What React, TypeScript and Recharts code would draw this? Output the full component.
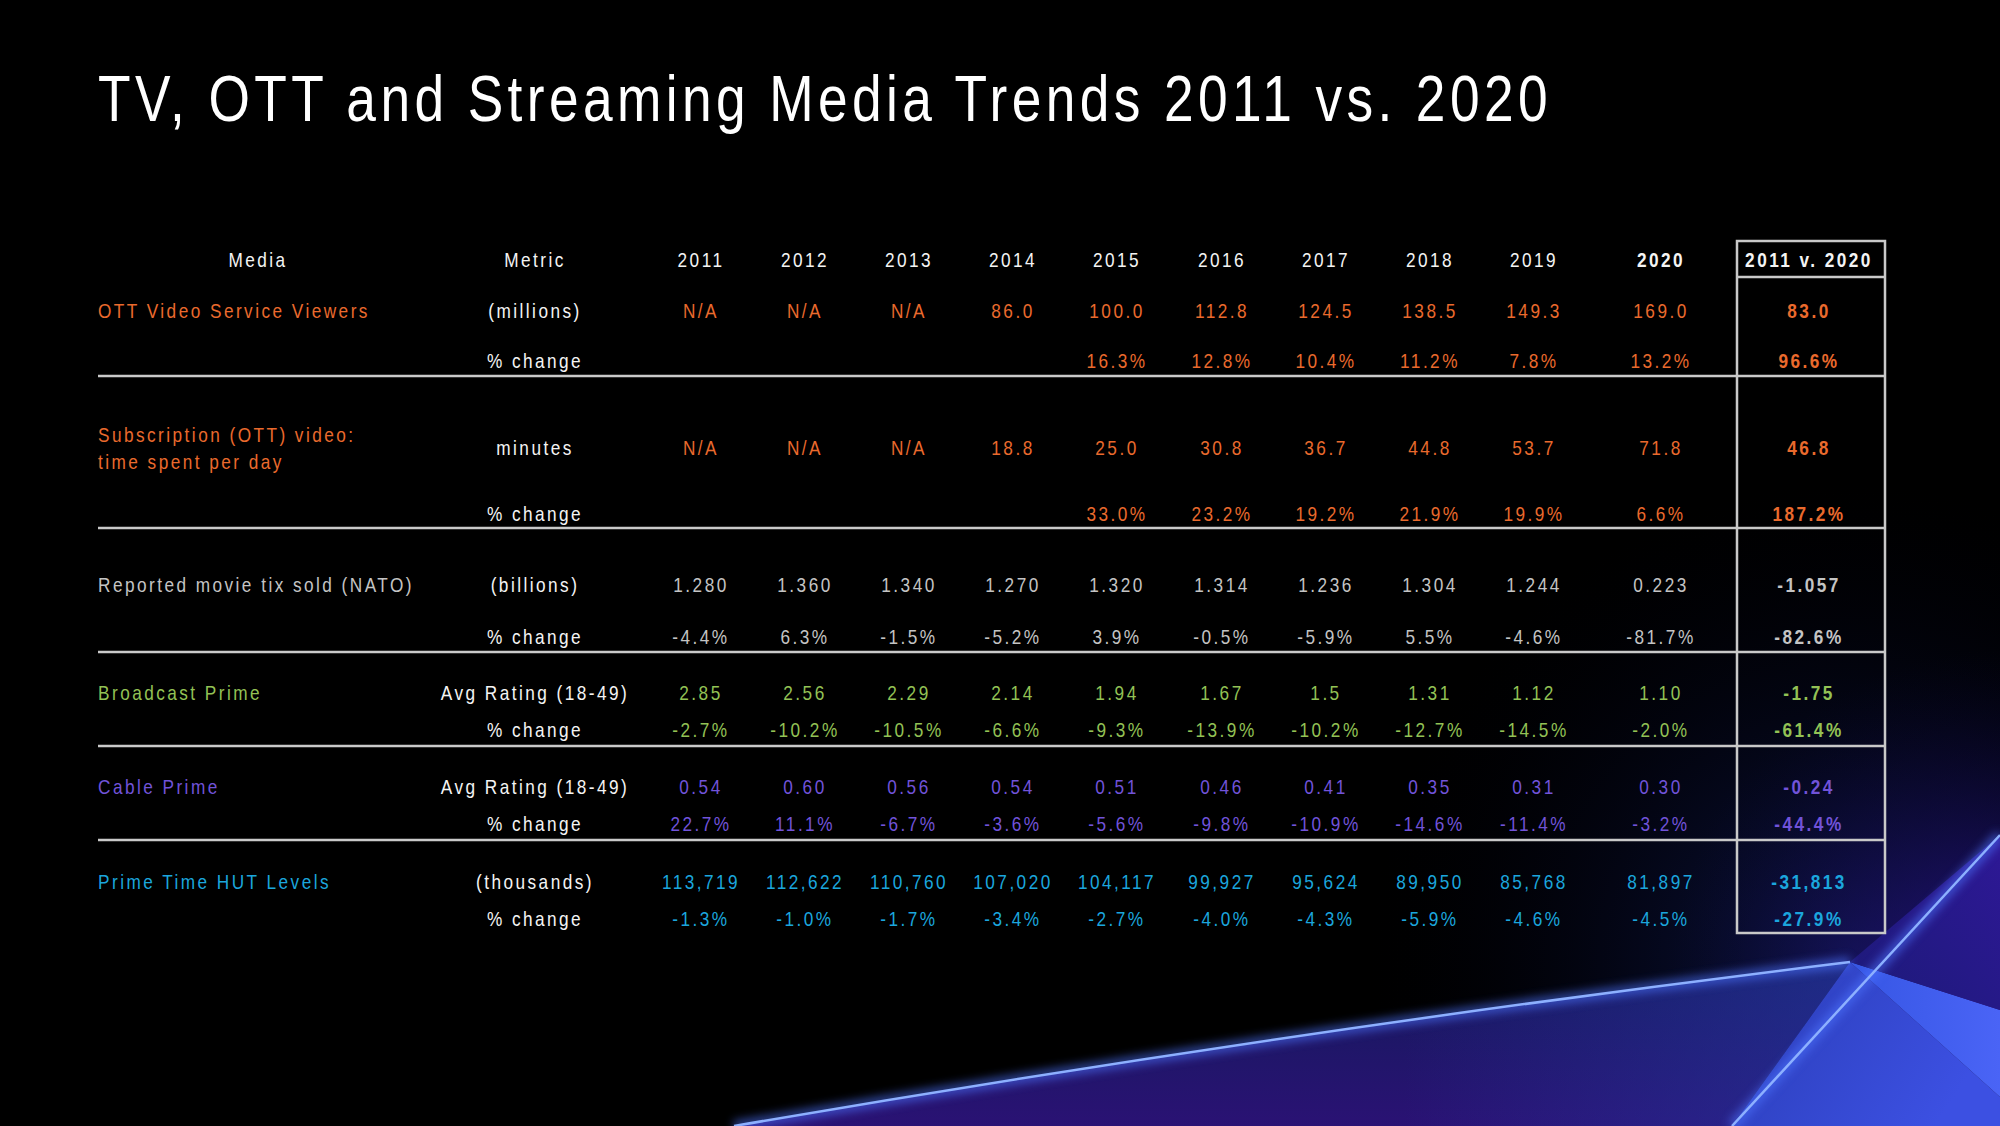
import { ScatterChart, Scatter, XAxis, YAxis, ReferenceLine, ReferenceArea } from "recharts";

const W = 2000;
const H = 1126;

// header
const years = ["2011", "2012", "2013", "2014", "2015", "2016", "2017", "2018", "2019", "2020"];
const diffLabel = "2011 v. 2020";

// row labels
const mediaLabels = [
  "OTT Video Service Viewers",
  "Subscription (OTT) video:",
  "time spent per day",
  "Reported movie tix sold (NATO)",
  "Broadcast Prime",
  "Cable Prime",
  "Prime Time HUT Levels",
];
const metricLabels = ["(millions)", "minutes", "(billions)", "Avg Rating (18-49)", "Avg Rating (18-49)", "(thousands)"];
const changeLabel = "% change";

// values 2011..2020, last entry = 2011 v. 2020
const ottViewers = ["N/A", "N/A", "N/A", "86.0", "100.0", "112.8", "124.5", "138.5", "149.3", "169.0", "83.0"];
const ottViewersChg = ["", "", "", "", "16.3%", "12.8%", "10.4%", "11.2%", "7.8%", "13.2%", "96.6%"];
const svodMinutes = ["N/A", "N/A", "N/A", "18.8", "25.0", "30.8", "36.7", "44.8", "53.7", "71.8", "46.8"];
const svodMinutesChg = ["", "", "", "", "33.0%", "23.2%", "19.2%", "21.9%", "19.9%", "6.6%", "187.2%"];
const movieTix = ["1.280", "1.360", "1.340", "1.270", "1.320", "1.314", "1.236", "1.304", "1.244", "0.223", "-1.057"];
const movieTixChg = ["-4.4%", "6.3%", "-1.5%", "-5.2%", "3.9%", "-0.5%", "-5.9%", "5.5%", "-4.6%", "-81.7%", "-82.6%"];
const broadcastRating = ["2.85", "2.56", "2.29", "2.14", "1.94", "1.67", "1.5", "1.31", "1.12", "1.10", "-1.75"];
const broadcastChg = ["-2.7%", "-10.2%", "-10.5%", "-6.6%", "-9.3%", "-13.9%", "-10.2%", "-12.7%", "-14.5%", "-2.0%", "-61.4%"];
const cableRating = ["0.54", "0.60", "0.56", "0.54", "0.51", "0.46", "0.41", "0.35", "0.31", "0.30", "-0.24"];
const cableChg = ["22.7%", "11.1%", "-6.7%", "-3.6%", "-5.6%", "-9.8%", "-10.9%", "-14.6%", "-11.4%", "-3.2%", "-44.4%"];
const hutLevels = ["113,719", "112,622", "110,760", "107,020", "104,117", "99,927", "95,624", "89,950", "85,768", "81,897", "-31,813"];
const hutChg = ["-1.3%", "-1.0%", "-1.7%", "-3.4%", "-2.7%", "-4.0%", "-4.3%", "-5.9%", "-4.6%", "-4.5%", "-27.9%"];

// colours
const ORANGE = "#ea6a2d";
const GRAY = "#c4c4c4";
const GREEN = "#93c255";
const PURPLE = "#7153d9";
const CYAN = "#1ba6dd";
const WHITE = "#f4f4f4";
const RULE = "#c9c9c9";

// layout (pixels)
const COL_X = [701, 805, 909, 1013, 1117, 1222, 1326, 1430, 1534, 1661, 1809];
const MEDIA_X = 98;
const METRIC_X = 535;
const HEADER_Y = 259;
const TABLE_RIGHT = 1885;
const BOX_LEFT = 1737;
const RULES_Y = [376, 528, 652, 746, 840];
const FONT = "'Liberation Sans', Arial, sans-serif";
const NARROW = 0.82; // fake a narrow face

type Cell = { x: number; y: number; text: string; color: string; bold?: boolean; anchor?: string };

const dataRows = [
  { vals: ottViewers, color: ORANGE, y: 310, metric: metricLabels[0] },
  { vals: ottViewersChg, color: ORANGE, y: 360, metric: changeLabel },
  { vals: svodMinutes, color: ORANGE, y: 447, metric: metricLabels[1] },
  { vals: svodMinutesChg, color: ORANGE, y: 513, metric: changeLabel },
  { vals: movieTix, color: GRAY, y: 584, metric: metricLabels[2] },
  { vals: movieTixChg, color: GRAY, y: 636, metric: changeLabel },
  { vals: broadcastRating, color: GREEN, y: 692, metric: metricLabels[3] },
  { vals: broadcastChg, color: GREEN, y: 729, metric: changeLabel },
  { vals: cableRating, color: PURPLE, y: 786, metric: metricLabels[4] },
  { vals: cableChg, color: PURPLE, y: 823, metric: changeLabel },
  { vals: hutLevels, color: CYAN, y: 881, metric: metricLabels[5] },
  { vals: hutChg, color: CYAN, y: 918, metric: changeLabel },
];

const mediaRows = [
  { y: 310, color: ORANGE },
  { y: 434, color: ORANGE },
  { y: 461, color: ORANGE },
  { y: 584, color: GRAY },
  { y: 692, color: GREEN },
  { y: 786, color: PURPLE },
  { y: 881, color: CYAN },
];

const cells: Cell[] = [];
cells.push({ x: 258, y: HEADER_Y, text: "Media", color: WHITE });
cells.push({ x: METRIC_X, y: HEADER_Y, text: "Metric", color: WHITE });
[...years, diffLabel].forEach((t, i) =>
  cells.push({ x: COL_X[i], y: HEADER_Y, text: t, color: WHITE, bold: i >= 9 })
);
mediaLabels.forEach((t, i) =>
  cells.push({ x: MEDIA_X, y: mediaRows[i].y, text: t, color: mediaRows[i].color, anchor: "start" })
);
dataRows.forEach((r) => {
  cells.push({ x: METRIC_X, y: r.y, text: r.metric, color: WHITE });
  r.vals.forEach((v, i) => {
    if (v) cells.push({ x: COL_X[i], y: r.y, text: v, color: r.color, bold: i === 10 });
  });
});

const CellText = (props: any) => {
  const { cx, cy, payload } = props;
  return (
    <text
      transform={`translate(${cx},${cy}) scale(${NARROW},1)`}
      x={0}
      y={0}
      dy={7.5}
      textAnchor={payload.anchor || "middle"}
      fill={payload.color}
      fontFamily={FONT}
      fontSize={21}
      fontWeight={payload.bold ? 700 : 400}
      letterSpacing={3}
    >
      {payload.text}
    </text>
  );
};

const Backdrop = () => (
  <svg width={W} height={H} style={{ position: "absolute", left: 0, top: 0 }}>
    <defs>
      <linearGradient id="lowFill" x1="0" y1="0" x2="0" y2="1">
        <stop offset="0%" stopColor="#141a5c" />
        <stop offset="100%" stopColor="#2a1274" />
      </linearGradient>
      <linearGradient id="lowFade" x1="1" y1="0" x2="0" y2="0">
        <stop offset="0%" stopColor="#263aa8" stopOpacity={0.55} />
        <stop offset="40%" stopColor="#263aa8" stopOpacity={0} />
      </linearGradient>
      <linearGradient id="midFill" x1="0" y1="0" x2="1" y2="0.4">
        <stop offset="0%" stopColor="#2a3db6" />
        <stop offset="100%" stopColor="#3c50e2" />
      </linearGradient>
      <linearGradient id="wedgeFill" x1="0" y1="0" x2="1" y2="0">
        <stop offset="0%" stopColor="#3656e4" />
        <stop offset="100%" stopColor="#4a64f6" />
      </linearGradient>
      <linearGradient id="upFill" x1="0" y1="1" x2="1" y2="0">
        <stop offset="0%" stopColor="#1c1a78" />
        <stop offset="100%" stopColor="#2e1896" />
      </linearGradient>
      <radialGradient id="corner" cx="2000" cy="980" r="330" gradientUnits="userSpaceOnUse">
        <stop offset="0%" stopColor="#2a1490" stopOpacity={0.9} />
        <stop offset="100%" stopColor="#0a0630" stopOpacity={0} />
      </radialGradient>
      <radialGradient id="haze" cx="1850" cy="962" r="480" gradientUnits="userSpaceOnUse">
        <stop offset="0%" stopColor="#16247a" stopOpacity={0.6} />
        <stop offset="100%" stopColor="#000010" stopOpacity={0} />
      </radialGradient>
      <filter id="glow" x="-10%" y="-10%" width="120%" height="120%">
        <feGaussianBlur stdDeviation="5" />
      </filter>
    </defs>
    <rect width={W} height={H} fill="#000" />
    <rect width={W} height={H} fill="url(#haze)" />
    <rect width={W} height={H} fill="url(#corner)" />
    <path d="M734,1126 Q1292,1030 1850,962 L1732,1126 Z" fill="url(#lowFill)" />
    <path d="M734,1126 Q1292,1030 1850,962 L1732,1126 Z" fill="url(#lowFade)" />
    <path d="M1850,962 L1732,1126 L2000,1126 L2000,1097 Z" fill="url(#midFill)" />
    <path d="M1850,962 L2000,1097 L2000,1010 Z" fill="url(#wedgeFill)" />
    <path d="M1850,962 L2000,1010 L2000,835 Z" fill="url(#upFill)" />
    <g stroke="#4d73ff" strokeWidth={10} fill="none" opacity={0.6} filter="url(#glow)">
      <path d="M734,1126 Q1292,1030 1850,962" />
      <path d="M1732,1126 L2000,835" />
    </g>
    <g stroke="#8db0ff" strokeWidth={2.5} fill="none">
      <path d="M734,1126 Q1292,1030 1850,962" />
      <path d="M1732,1126 L2000,835" />
    </g>
    <text
      transform={`translate(98,121) scale(${NARROW},1)`}
      fill="#ffffff"
      fontFamily={FONT}
      fontSize={65}
      letterSpacing={5.36}
    >
      TV, OTT and Streaming Media Trends 2011 vs. 2020
    </text>
  </svg>
);

export default function App() {
  return (
    <div style={{ position: "absolute", left: 0, top: 0, width: W, height: H, overflow: "hidden", background: "#000" }}>
      <Backdrop />
      <div style={{ position: "absolute", left: 0, top: 0 }}>
        <ScatterChart width={W} height={H} margin={{ top: 0, right: 0, bottom: 0, left: 0 }}>
          <XAxis type="number" dataKey="x" domain={[0, W]} hide />
          <YAxis type="number" dataKey="y" domain={[0, H]} reversed hide />
          {RULES_Y.map((y) => (
            <ReferenceLine
              key={y}
              segment={[{ x: MEDIA_X, y }, { x: TABLE_RIGHT, y }]}
              stroke={RULE}
              strokeWidth={2.5}
            />
          ))}
          <ReferenceLine
            segment={[{ x: BOX_LEFT, y: 277 }, { x: TABLE_RIGHT, y: 277 }]}
            stroke={RULE}
            strokeWidth={2.5}
          />
          <ReferenceArea
            x1={BOX_LEFT}
            x2={TABLE_RIGHT}
            y1={241}
            y2={933}
            fill="none"
            fillOpacity={0}
            stroke={RULE}
            strokeWidth={2.5}
          />
          <Scatter data={cells} shape={(p: any) => <CellText {...p} />} isAnimationActive={false} />
        </ScatterChart>
      </div>
    </div>
  );
}
